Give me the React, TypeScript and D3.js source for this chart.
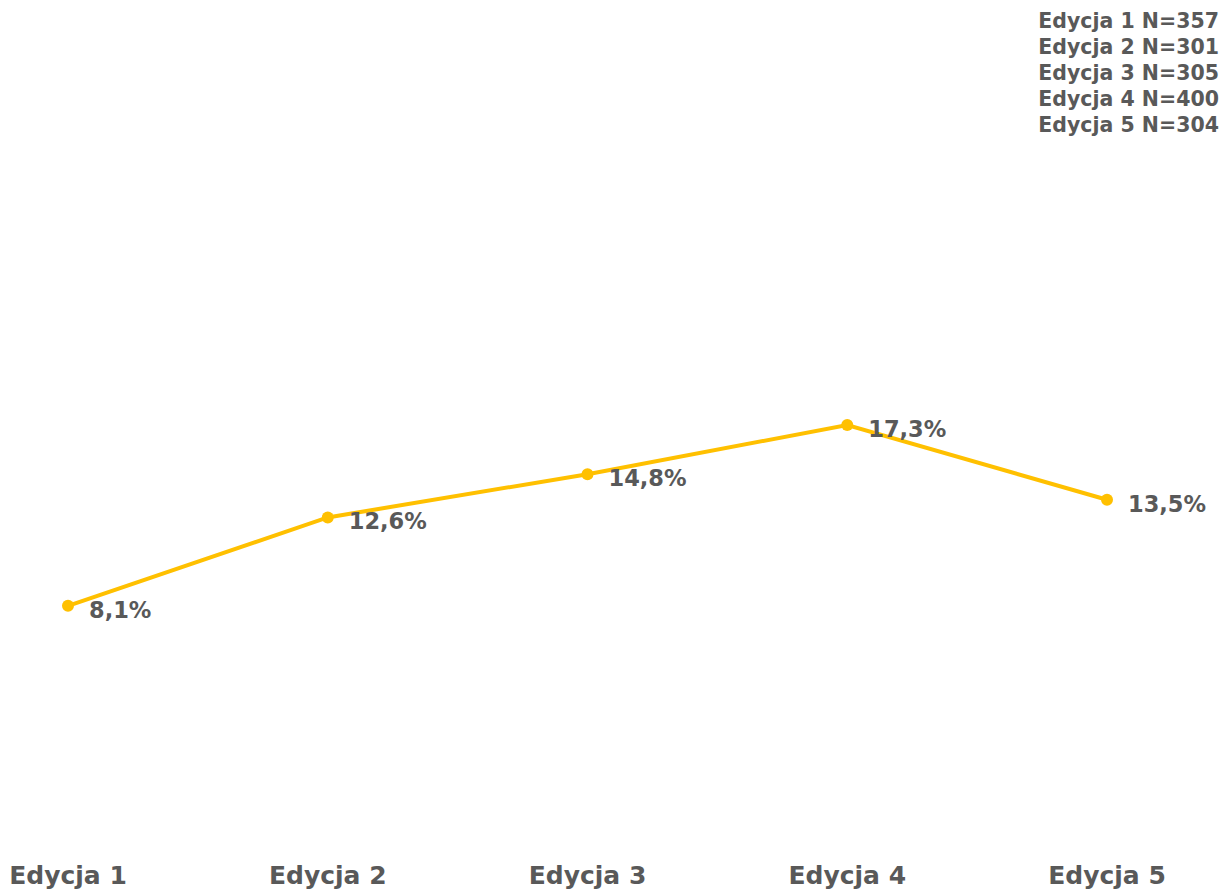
import React from 'react';
import * as d3 from 'd3';

const categories = ['Edycja 1', 'Edycja 2', 'Edycja 3', 'Edycja 4', 'Edycja 5'];
const values = [8.1, 12.6, 14.8, 17.3, 13.5];
const sampleSizes = [357, 301, 305, 400, 304];

const W = 1224;
const H = 890;
const FONT = '"DejaVu Sans", sans-serif';
const GREY = '#595959';
const GOLD = '#FFC000';

export default function App() {
  const x = d3
    .scalePoint<string>()
    .domain(categories)
    .range([68, 1107]);

  const y = d3.scaleLinear().domain([0, 20]).range([765, 372]);

  const data = categories.map((c, i) => ({ cat: c, value: values[i] }));

  const line = d3
    .line<{ cat: string; value: number }>()
    .x((d) => x(d.cat)!)
    .y((d) => y(d.value));

  const fmt = (v: number) => v.toFixed(1).replace('.', ',') + '%';

  return (
    <div style={{ position: 'absolute', left: 0, top: 0 }}>
      <svg width={W} height={H} style={{ display: 'block', background: '#fff' }}>
        <path d={line(data) ?? ''} fill="none" stroke={GOLD} strokeWidth={4} />
        {data.map((d) => (
          <circle key={d.cat} cx={x(d.cat)} cy={y(d.value)} r={6} fill={GOLD} />
        ))}
        {data.map((d) => (
          <text
            key={'l' + d.cat}
            x={x(d.cat)! + 21}
            y={y(d.value) + 12}
            fill={GREY}
            fontFamily={FONT}
            fontWeight={700}
            fontSize={22.5}
          >
            {fmt(d.value)}
          </text>
        ))}
        {categories.map((c) => (
          <text
            key={'x' + c}
            x={x(c)}
            y={884}
            textAnchor="middle"
            fill={GREY}
            fontFamily={FONT}
            fontWeight={700}
            fontSize={25}
          >
            {c}
          </text>
        ))}
        {categories.map((c, i) => (
          <text
            key={'n' + c}
            x={1219}
            y={28 + i * 26}
            textAnchor="end"
            fill={GREY}
            fontFamily={FONT}
            fontWeight={700}
            fontSize={20.5}
          >
            {`${c} N=${sampleSizes[i]}`}
          </text>
        ))}
      </svg>
    </div>
  );
}
